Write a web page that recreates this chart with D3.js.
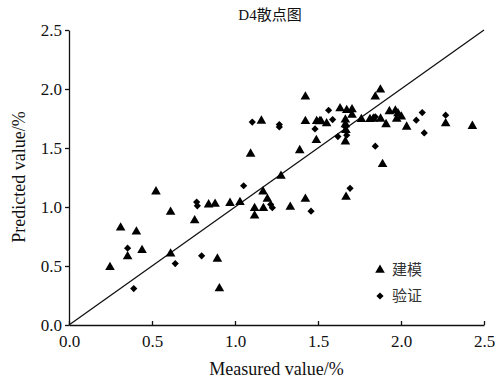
<!DOCTYPE html>
<html>
<head>
<meta charset="utf-8">
<script src="https://cdn.jsdelivr.net/npm/d3@7"></script>
<style>
  body { margin: 0; background: #fff; }
  text { font-family: "Liberation Serif", "Noto Sans CJK SC", serif; fill: #111; }
</style>
</head>
<body>
<svg id="svg"></svg>
<script>
// 建模 (triangles)
const trainX = [0.247,0.311,0.353,0.406,0.44,0.524,0.612,0.612,0.757,0.841,0.88,0.894,0.906,0.97,1.03,1.094,1.118,1.118,1.159,1.169,1.171,1.195,1.277,1.333,1.39,1.424,1.424,1.424,1.49,1.492,1.518,1.552,1.633,1.665,1.665,1.669,1.673,1.705,1.705,1.761,1.813,1.833,1.845,1.876,1.877,1.889,1.91,1.93,1.966,1.974,1.982,2.002,2.034,2.269,2.43,1.665,1.668,1.51];
const trainY = [0.49,0.824,0.58,0.79,0.634,1.13,0.957,0.603,0.886,1.02,1.025,0.56,0.309,1.033,1.04,1.45,0.99,0.926,1.73,1.13,0.99,1.067,1.263,1.0,1.48,1.934,1.727,1.067,1.566,1.727,1.727,1.707,1.835,1.74,1.554,1.084,1.82,1.826,1.78,1.744,1.744,1.747,1.934,1.993,1.747,1.362,1.70,1.81,1.815,1.747,1.792,1.764,1.679,1.707,1.685,1.70,1.65,1.725];
// 验证 (diamonds)
const testX = [0.353,0.39,0.64,0.769,0.773,0.799,1.052,1.104,1.215,1.225,1.267,1.267,1.458,1.482,1.564,1.588,1.62,1.665,1.673,1.693,1.845,1.845,2.092,2.128,2.14,2.269,1.67];
const testY = [0.651,0.309,0.521,1.042,1.01,0.586,1.18,1.72,1.022,0.994,1.699,1.679,0.965,1.662,1.82,1.741,1.597,1.679,1.608,1.158,1.515,1.764,1.736,1.80,1.628,1.778,1.64];
const ticks = [0, 0.5, 1.0, 1.5, 2.0, 2.5];
const legendNames = ['建模', '验证'];

const width = 495, height = 380;
const margin = {top: 30, right: 11, bottom: 55, left: 69};
const serif = '"Liberation Serif", serif';

const svg = d3.select('#svg').attr('width', width).attr('height', height);
const g = svg.append('g').attr('transform', `translate(${margin.left},${margin.top})`);
const w = width - margin.left - margin.right;
const h = height - margin.top - margin.bottom;

const xScale = d3.scaleLinear().domain([0, 2.5]).range([0, w]);
const yScale = d3.scaleLinear().domain([0, 2.5]).range([h, 0]);

// x axis, ticks point inward
const xAxis = g.append('g')
  .attr('transform', `translate(0,${h})`)
  .call(d3.axisBottom(xScale).tickValues(ticks).tickFormat(d3.format('.1f')).tickSizeInner(-4).tickSizeOuter(0).tickPadding(10));
xAxis.attr('font-family', null);
xAxis.selectAll('text').style('font-size', '17px').style('font-family', serif).attr('dy', '0.71em');

const yAxis = g.append('g')
  .call(d3.axisLeft(yScale).tickValues(ticks).tickFormat(d3.format('.1f')).tickSizeInner(4).tickSizeOuter(0).tickPadding(3));
yAxis.attr('font-family', null);
yAxis.selectAll('text').style('font-size', '17px').style('font-family', serif);

g.selectAll('.domain, .tick line').attr('stroke', '#111').attr('stroke-width', 1.3);

// 1:1 line
g.append('line')
  .attr('x1', xScale(0)).attr('y1', yScale(0))
  .attr('x2', xScale(2.5)).attr('y2', yScale(2.5))
  .attr('stroke', '#111').attr('stroke-width', 1.3);

const tri = d3.symbol().type(d3.symbolTriangle).size(40);
const dia = d3.symbol().type(d3.symbolSquare).size(26);

g.selectAll('.train')
  .data(trainX)
  .enter()
  .append('path')
  .attr('class', 'train')
  .attr('d', tri)
  .attr('transform', (d, i) => `translate(${xScale(d)},${yScale(trainY[i])})`)
  .attr('fill', '#000');

g.selectAll('.test')
  .data(testX)
  .enter()
  .append('path')
  .attr('class', 'test')
  .attr('d', dia)
  .attr('transform', (d, i) => `translate(${xScale(d)},${yScale(testY[i])}) rotate(45)`)
  .attr('fill', '#000');

// legend
const legend = g.append('g').attr('transform', 'translate(311,240)');
legendNames.forEach((name, i) => {
  const row = legend.append('g').attr('transform', `translate(0,${i * 26})`);
  row.append('path').attr('d', i === 0 ? tri : dia).attr('fill', '#000')
    .attr('transform', i === 0 ? null : 'rotate(45)');
  row.append('text').attr('x', 12).attr('y', 0).attr('dy', '0.35em')
    .style('font-size', '15px').style('font-family', '"Noto Sans CJK SC"').style('fill', '#333').text(name);
});

// title
svg.append('text')
  .attr('x', 270).attr('y', 20)
  .attr('text-anchor', 'middle')
  .style('font-size', '15px')
  .text('D4散点图');

svg.append('text')
  .attr('x', margin.left + w / 2).attr('y', 375)
  .attr('text-anchor', 'middle')
  .style('font-size', '18px')
  .text('Measured value/%');

svg.append('text')
  .attr('transform', 'translate(25,177) rotate(-90)')
  .attr('text-anchor', 'middle')
  .style('font-size', '18px')
  .text('Predicted value/%');
</script>
</body>
</html>
